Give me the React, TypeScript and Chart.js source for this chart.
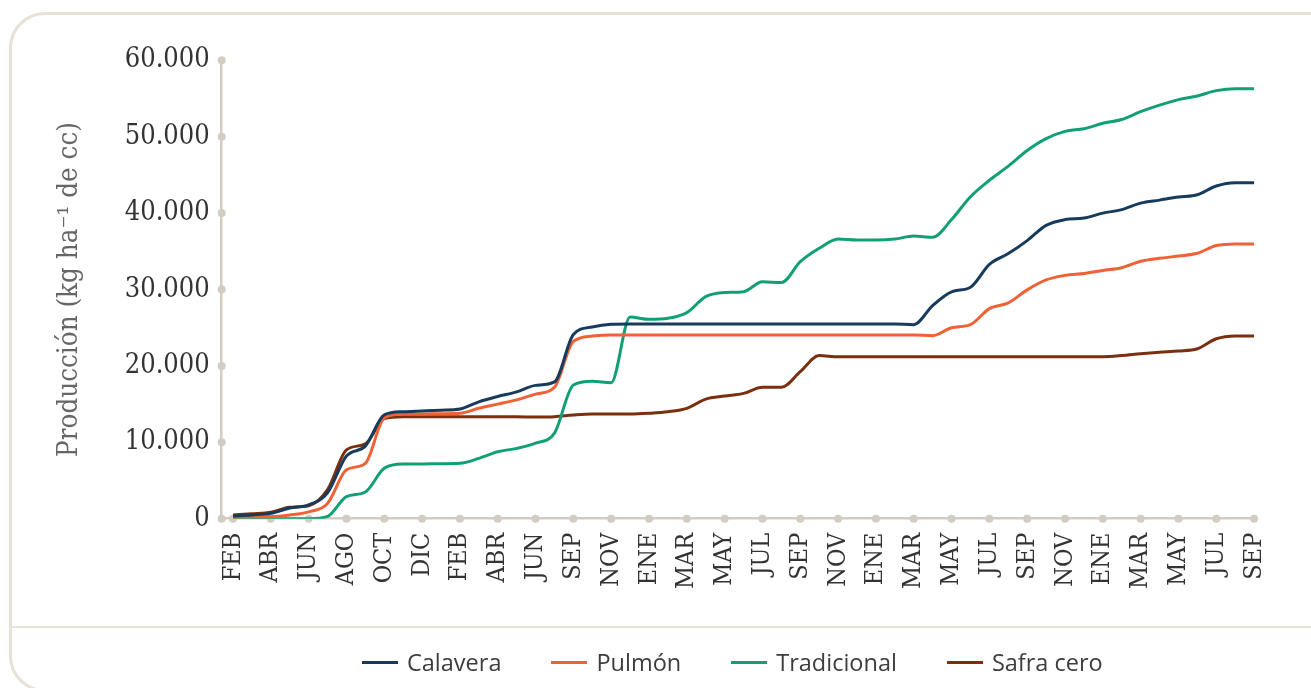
import React, { useEffect, useRef } from 'react';
import { Chart, registerables } from 'chart.js';

Chart.register(...registerables);

// ---------- DATA ----------
const MONTH_LABELS = ['FEB','ABR','JUN','AGO','OCT','DIC','FEB','ABR','JUN','SEP','NOV','ENE','MAR','MAY','JUL','SEP','NOV','ENE','MAR','MAY','JUL','SEP','NOV','ENE','MAR','MAY','JUL','SEP'];

const Y_TICKS = [0, 10000, 20000, 30000, 40000, 50000, 60000];

const SERIES_NAMES = ['Calavera', 'Pulmón', 'Tradicional', 'Safra cero'];
const SERIES_COLORS = ['#173b5c', '#ee6236', '#11a075', '#7a2f0f'];

// values sampled at half-steps between the labelled months
const CALAVERA = [350,500,700,1400,1800,3400,8200,9500,13600,14000,14100,14200,14350,15300,16000,16600,17450,17900,24100,25100,25450,25500,
  25500,25500,25500,25500,25500,25500,25500,25500,25500,25500,25500,25500,25500,25500,
  25400,
  27900,29700,30300,33300,34700,36400,38400,39150,39350,40000,40450,41300,41700,42100,42400,43550,43980,43980];

const PULMON = [200,250,260,480,900,2000,6400,7250,13200,13700,13700,13750,13800,14450,15000,15550,16300,17200,23200,23900,24050,
  24050,24050,24050,24050,24050,24050,24050,24050,24050,24050,24050,24050,24050,24050,24050,24050,
  23950,
  25000,25400,27500,28250,29950,31250,31850,32100,32500,32850,33700,34080,34380,34740,35750,35960,35960];

const TRADICIONAL = [0,0,0,0,0,300,
  2900,3500,6600,7150,7160,7200,7250,7900,8770,9200,9900,11200,17500,18000,17800,
  26400,26100,26230,26970,29060,29600,29720,31020,30900,33640,35390,36610,36480,36480,36610,37000,36830,
  39150,42150,44300,46150,48200,49750,50700,51050,51750,52250,53280,54130,54850,55330,56030,56290,56290];

const SAFRA_CERO = [500,650,840,1500,1700,3800,9000,9800,13100,13350,13350,13350,13350,13350,13350,13350,13300,13350,
  13570,13700,13700,13700,13800,14000,14450,15650,16050,16400,17200,17200,19250,21350,21200,
  21200,21200,21200,21200,21200,21200,21200,21200,21200,21200,21200,21200,21200,21200,
  21350,21600,21800,21950,22250,23550,23920,23920];

const SERIES_VALUES = [CALAVERA, PULMON, TRADICIONAL, SAFRA_CERO];

const Y_TITLE = 'Producción (kg ha⁻¹ de cc)';

// ---------- STYLE ----------
const W = 1311;
const H = 688;
const AXIS_COLOR = '#d3ccc3';
const CARD_COLOR = '#e8e1d6';
const SLAB = "'DejaVu Serif Condensed', 'DejaVu Serif', serif";

const formatThousands = (v: number) => String(v).replace(/\B(?=(\d{3})+(?!\d))/g, '.');

const tickDots = {
  id: 'tickDots',
  beforeDatasetsDraw(chart: any) {
    const { ctx, chartArea, scales } = chart;
    const xs = scales.x;
    const ys = scales.y;
    ctx.save();
    ctx.fillStyle = AXIS_COLOR;
    for (const t of ys.ticks) {
      ctx.beginPath();
      ctx.arc(chartArea.left, ys.getPixelForValue(t.value), 4, 0, Math.PI * 2);
      ctx.fill();
    }
    for (const t of xs.ticks) {
      ctx.beginPath();
      ctx.arc(xs.getPixelForValue(t.value), chartArea.bottom, 4, 0, Math.PI * 2);
      ctx.fill();
    }
    ctx.restore();
  },
};

function ProductionChart() {
  const ref = useRef<HTMLCanvasElement | null>(null);

  useEffect(() => {
    if (!ref.current) return;
    const chart = new Chart(ref.current, {
      type: 'line',
      data: {
        datasets: SERIES_NAMES.map((name, i) => ({
          label: name,
          data: SERIES_VALUES[i].map((v, k) => ({ x: k / 2, y: v })),
          borderColor: SERIES_COLORS[i],
          backgroundColor: SERIES_COLORS[i],
          borderWidth: 3,
          pointRadius: 0,
          fill: false,
          cubicInterpolationMode: 'monotone' as const,
        })),
      },
      options: {
        responsive: false,
        animation: false,
        devicePixelRatio: 1,
        layout: { padding: { left: 0, top: 60.3, right: 55, bottom: 0 } },
        plugins: {
          legend: { display: false },
          tooltip: { enabled: false },
        },
        scales: {
          x: {
            type: 'linear',
            min: -0.299,
            max: 27.05,
            afterBuildTicks: (s: any) => {
              s.ticks = MONTH_LABELS.map((_, i) => ({ value: i }));
            },
            afterFit: (s: any) => {
              s.height = H - 518.7;
            },
            grid: { display: false, drawTicks: false },
            border: { display: true, color: AXIS_COLOR, width: 2.5 },
            ticks: {
              autoSkip: false,
              minRotation: 90,
              maxRotation: 90,
              padding: 14,
              color: '#333333',
              font: { family: SLAB, size: 25 },
              callback: (_v: any, i: number) => MONTH_LABELS[i] ?? '',
            },
          },
          y: {
            min: 0,
            max: 60000,
            afterBuildTicks: (s: any) => {
              s.ticks = Y_TICKS.map((v) => ({ value: v }));
            },
            afterFit: (s: any) => {
              s.width = 221.7;
            },
            grid: { display: false, drawTicks: false },
            border: { display: true, color: AXIS_COLOR, width: 2.5 },
            ticks: {
              padding: 12,
              color: '#333333',
              font: { family: SLAB, size: 27 },
              callback: (v: any) => formatThousands(Number(v)),
            },
            title: {
              display: true,
              text: Y_TITLE,
              color: '#666666',
              font: { family: SLAB, size: 27.5, weight: 'normal' },
              padding: { top: 53.5, bottom: 0 },
            },
          },
        },
      },
      plugins: [tickDots],
    } as any);
    return () => chart.destroy();
  }, []);

  return (
    <canvas
      ref={ref}
      width={W}
      height={H}
      style={{ position: 'absolute', left: 0, top: 0, width: W, height: H }}
    />
  );
}

export default function App() {
  return (
    <div
      style={{
        position: 'fixed',
        left: 0,
        top: 0,
        width: W,
        height: H,
        overflow: 'hidden',
        background: '#ffffff',
      }}
    >
      <div
        style={{
          position: 'absolute',
          left: 9,
          top: 12,
          width: 1400,
          height: 680,
          border: `3px solid ${CARD_COLOR}`,
          borderRadius: 36,
          boxSizing: 'border-box',
        }}
      />
      <div
        style={{
          position: 'absolute',
          left: 10,
          top: 625.5,
          width: 1400,
          height: 2.5,
          background: CARD_COLOR,
        }}
      />
      <ProductionChart />
      <div
        style={{
          position: 'absolute',
          left: 362,
          top: 647,
          height: 30,
          display: 'flex',
          alignItems: 'center',
          fontFamily: "'Open Sans', 'Noto Sans', sans-serif",
          fontSize: 23.5,
          color: '#3d3d3d',
          whiteSpace: 'nowrap',
        }}
      >
        {SERIES_NAMES.map((name, i) => (
          <div key={name} style={{ display: 'flex', alignItems: 'center', marginRight: 50 }}>
            <span
              style={{
                display: 'inline-block',
                width: 36,
                height: 3,
                background: SERIES_COLORS[i],
                marginRight: 9,
              }}
            />
            <span style={{ lineHeight: '30px' }}>{name}</span>
          </div>
        ))}
      </div>
    </div>
  );
}
